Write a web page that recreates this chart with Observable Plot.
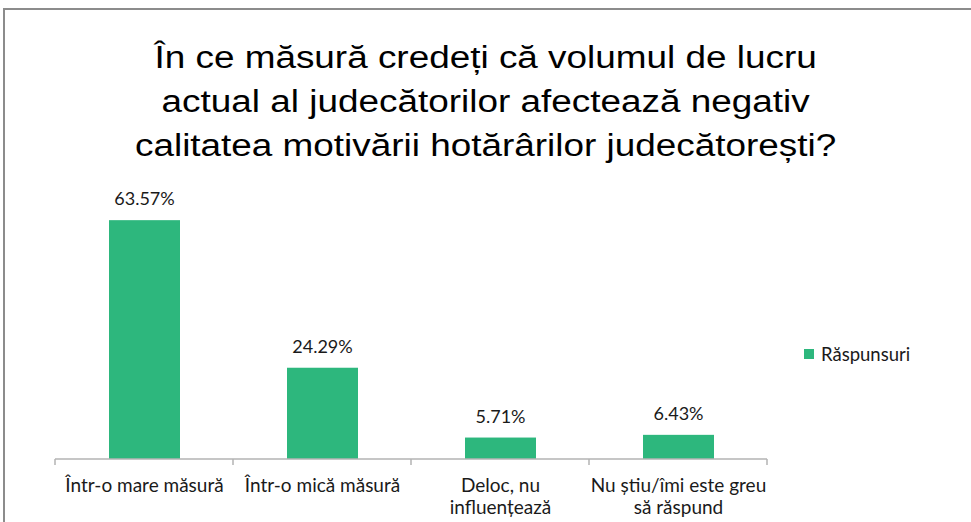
<!DOCTYPE html>
<html>
<head>
<meta charset="utf-8">
<script src="https://cdn.jsdelivr.net/npm/d3@7"></script>
<script src="https://cdn.jsdelivr.net/npm/@observablehq/plot@0.6"></script>
<style>
  html, body { margin: 0; padding: 0; background: #fff; }
  #wrap { position: relative; width: 971px; height: 522px; overflow: hidden; }
  #frame { position: absolute; left: 3px; top: 8px; width: 1000px; height: 600px; border-left: 2px solid #8c8c8c; border-top: 2px solid #8c8c8c; box-sizing: border-box; }
  #title { position: absolute; left: 0; top: 36px; width: 971px; text-align: center; font-family: "Liberation Sans", Arial, sans-serif; font-size: 31px; line-height: 44px; color: #000; transform: scaleX(1.19); transform-origin: 485px 0; }
  #legend { position: absolute; left: 804px; top: 343px; font-family: Lato, sans-serif; font-size: 18.5px; color: #1a1a1a; display: flex; align-items: center; }
  #legend span.sw { display: inline-block; width: 10px; height: 10px; background: #2db77d; margin-right: 7px; }
  #chart { position: absolute; left: 0; top: 0; }
</style>
</head>
<body>
<div id="wrap">
  <div id="frame"></div>
  <div id="chart"></div>
  <div id="title"></div>
  <div id="legend"><span class="sw"></span><span id="legtext"></span></div>
</div>
<script>
const titleLines = [
  "În ce măsură credeți că volumul de lucru",
  "actual al judecătorilor afectează negativ",
  "calitatea motivării hotărârilor judecătorești?"
];
const categories = [
  "Într-o mare măsură",
  "Într-o mică măsură",
  "Deloc, nu\ninfluențează",
  "Nu știu/îmi este greu\nsă răspund"
];
const values = [63.57, 24.29, 5.71, 6.43];
const seriesName = "Răspunsuri";
const barColor = "#2db77d";

document.getElementById("title").innerHTML = titleLines.join("<br>");
document.getElementById("legtext").textContent = seriesName;

const data = categories.map((c, i) => ({category: c, value: values[i]}));

const axisTicks = (index, scales, values, dimensions) => {
  const x = scales.x, y = scales.y;
  const g = d3.create("svg:g");
  const bw = x.bandwidth();
  const y0 = y(0);
  const xs = categories.map(c => x(c)).concat([x(categories[categories.length - 1]) + bw]);
  g.append("line").attr("x1", xs[0]).attr("x2", xs[xs.length - 1]).attr("y1", y0).attr("y2", y0)
    .attr("stroke", "#b3b3b3").attr("stroke-width", 1.5);
  for (const xv of xs) {
    g.append("line").attr("x1", xv).attr("x2", xv).attr("y1", y0).attr("y2", y0 + 6)
      .attr("stroke", "#b3b3b3").attr("stroke-width", 1.5);
  }
  return g.node();
};

const chart = Plot.plot({
  width: 971,
  height: 522,
  marginLeft: 55,
  marginRight: 204,
  marginTop: 196,
  marginBottom: 63,
  style: {fontFamily: "Lato, sans-serif", background: "transparent"},
  x: {domain: categories, padding: 0, axis: null},
  y: {domain: [0, 70], axis: null},
  marks: [
    Plot.barY(data, {x: "category", y: "value", fill: barColor, insetLeft: 54, insetRight: 53}),
    axisTicks,
    Plot.text(data, {x: "category", y: "value", text: d => d.value.toFixed(2) + "%", dy: -21, fontSize: 18, fill: "#1a1a1a", lineAnchor: "middle"}),
    Plot.text(data, {x: "category", y: () => 0, text: "category", dy: 17, fontSize: 19, fill: "#1a1a1a", lineAnchor: "top", lineHeight: 1.16})
  ]
});
document.getElementById("chart").appendChild(chart);
</script>
</body>
</html>
